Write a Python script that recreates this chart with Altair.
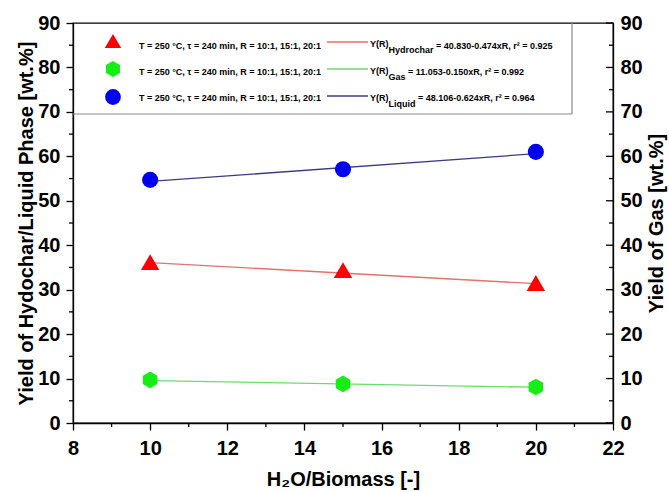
import altair as alt
import pandas as pd

# ---------------- data ----------------
R = [10, 15, 20]
hydrochar = [36.2, 34.4, 31.5]
gas = [9.7, 8.8, 8.1]
liquid = [54.7, 57.1, 61.0]

fit_R = [10, 20]
hydrochar_fit = [36.09, 31.35]
gas_fit = [9.55, 8.05]
liquid_fit = [54.35, 60.59]

series = ["Hydrochar", "Gas", "Liquid"]
conditions = ["T = 250 °C, τ = 240 min, R = 10:1, 15:1, 20:1"] * 3
equations = ["= 40.830-0.474xR, r² = 0.925",
             "= 11.053-0.150xR, r² = 0.992",
             "= 48.106-0.624xR, r² = 0.964"]

x_ticks = [8, 10, 12, 14, 16, 18, 20, 22]
x_minor = [9, 11, 13, 15, 17, 19, 21]
y_ticks = [0, 10, 20, 30, 40, 50, 60, 70, 80, 90]
y_minor = [5, 15, 25, 35, 45, 55, 65, 75, 85]

# ---------------- styles ----------------
FONT = "Liberation Sans"
W, H = 540, 400
HEX = "M0,-1L0.866,-0.5L0.866,0.5L0,1L-0.866,0.5L-0.866,-0.5Z"
marker_color = {"Hydrochar": "#ff0000", "Gas": "#14ee14", "Liquid": "#0000f0"}
marker_shape = {"Hydrochar": "triangle-up", "Gas": HEX, "Liquid": "circle"}
marker_size = {"Hydrochar": 340, "Gas": 280, "Liquid": 260}
legend_size = {"Hydrochar": 270, "Gas": 260, "Liquid": 250}
fit_color = {"Hydrochar": "#e47070", "Gas": "#6cdc6c", "Liquid": "#3a3a7e"}

# text widths (Liberation Sans Bold, per 1000 em) for subscript layout
BW = {"Y": 667, "(": 333, "R": 722, ")": 333, "H": 722, "y": 556, "d": 611,
      "r": 389, "o": 611, "c": 556, "h": 611, "a": 556, "G": 778, "s": 556,
      "L": 611, "i": 278, "q": 611, "u": 611, " ": 278}


def tw(s, size=9):
    return sum(BW.get(ch, 556) for ch in s) * size / 1000.0


values = {"Hydrochar": hydrochar, "Gas": gas, "Liquid": liquid}
fits = {"Hydrochar": hydrochar_fit, "Gas": gas_fit, "Liquid": liquid_fit}

xscale = alt.Scale(domain=[8, 22], nice=False, zero=False)
yscale = alt.Scale(domain=[0, 90], nice=False, zero=False)

xaxis = alt.Axis(values=x_ticks, tickSize=7, labelPadding=8, title="H₂O/Biomass [-]",
                 titlePadding=11, labelFlush=False)
left_axis = alt.Axis(values=y_ticks, tickSize=7, labelPadding=6,
                     title="Yield of Hydochar/Liquid Phase [wt.%]", titlePadding=1)
right_axis = alt.Axis(orient="right", values=y_ticks, ticks=False, tickSize=0,
                      labelPadding=7, title="Yield of Gas [wt.%]", titleAngle=270,
                      titleBaseline="top", titlePadding=4)

X = alt.X("R:Q", scale=xscale, axis=xaxis)
layers = []

# fitted lines
for s in series:
    df = pd.DataFrame({"R": fit_R, "v": fits[s]})
    layers.append(alt.Chart(df).mark_line(color=fit_color[s], strokeWidth=1.3).encode(
        x=X, y=alt.Y("v:Q", scale=yscale, axis=None)))

# data markers
for s in series:
    df = pd.DataFrame({"R": R, "v": values[s]})
    if s == "Hydrochar":
        ax = left_axis
    elif s == "Gas":
        ax = right_axis
    else:
        ax = None
    layers.append(alt.Chart(df).mark_point(
        shape=marker_shape[s], size=marker_size[s], filled=True, opacity=1,
        color=marker_color[s], strokeWidth=0).encode(
        x=X, y=alt.Y("v:Q", scale=yscale, axis=ax)))

# minor ticks on left and bottom, inward ticks on right
layers.append(alt.Chart(pd.DataFrame({"v": y_minor})).mark_rule(color="black", strokeWidth=1.3).encode(
    y=alt.Y("v:Q", scale=yscale, axis=None), x=alt.value(-4), x2=alt.value(0)))
layers.append(alt.Chart(pd.DataFrame({"R": x_minor})).mark_rule(color="black", strokeWidth=1.3).encode(
    x=X, y=alt.value(H), y2=alt.value(H + 4)))
layers.append(alt.Chart(pd.DataFrame({"v": y_ticks})).mark_rule(color="black", strokeWidth=1.3).encode(
    y=alt.Y("v:Q", scale=yscale, axis=None), x=alt.value(W - 7), x2=alt.value(W)))
layers.append(alt.Chart(pd.DataFrame({"v": y_minor})).mark_rule(color="black", strokeWidth=1.3).encode(
    y=alt.Y("v:Q", scale=yscale, axis=None), x=alt.value(W - 4), x2=alt.value(W)))

# legend box edges
one = pd.DataFrame({"a": [0]})
BOX_W, BOX_H = 499, 91
layers.append(alt.Chart(one).mark_rule(color="#8a8a8a", strokeWidth=1.2).encode(
    x=alt.value(0), x2=alt.value(BOX_W), y=alt.value(BOX_H)))
layers.append(alt.Chart(one).mark_rule(color="#8a8a8a", strokeWidth=1.2).encode(
    x=alt.value(BOX_W), y=alt.value(0), y2=alt.value(BOX_H)))

# legend contents
leg = pd.DataFrame({"series": series, "cond": conditions, "eq": equations,
                    "i": [0, 1, 2], "subw": [tw(s + " ") for s in series]})
yr_w = tw("Y(R)")
TXT = dict(font=FONT, fontSize=9, fontWeight="bold", align="left", baseline="middle", color="black")

for s in series:
    layers.append(alt.Chart(leg).transform_filter(alt.datum.series == s).transform_calculate(
        py="18 + 28*datum.i").mark_point(
        shape=marker_shape[s], size=legend_size[s], filled=True, opacity=1,
        color=marker_color[s], strokeWidth=0).encode(
        x=alt.value(40), y=alt.Y("py:Q", scale=None, axis=None)))

layers.append(alt.Chart(leg).transform_calculate(py="23 + 26*datum.i").mark_text(**TXT).encode(
    x=alt.value(66), y=alt.Y("py:Q", scale=None, axis=None), text="cond:N"))

layers.append(alt.Chart(leg).transform_calculate(py="19 + 27*datum.i").mark_rule(strokeWidth=1.3).encode(
    x=alt.value(254), x2=alt.value(295), y=alt.Y("py:Q", scale=None, axis=None),
    color=alt.Color("series:N", scale=alt.Scale(domain=series, range=[fit_color[s] for s in series]),
                    legend=None)))

layers.append(alt.Chart(leg).transform_calculate(py="21 + 27*datum.i").mark_text(**TXT).encode(
    x=alt.value(297), y=alt.Y("py:Q", scale=None, axis=None), text=alt.value("Y(R)")))

layers.append(alt.Chart(leg).transform_calculate(
    py="27 + 27*datum.i", px=f"{297 + yr_w}").mark_text(**TXT).encode(
    x=alt.X("px:Q", scale=None, axis=None), y=alt.Y("py:Q", scale=None, axis=None), text="series:N"))

layers.append(alt.Chart(leg).transform_calculate(
    py="23 + 26*datum.i", px=f"{297 + yr_w} + datum.subw").mark_text(**TXT).encode(
    x=alt.X("px:Q", scale=None, axis=None), y=alt.Y("py:Q", scale=None, axis=None), text="eq:N"))

chart = alt.layer(*layers).resolve_scale(y="independent").properties(
    width=W, height=H,
    autosize=alt.AutoSizeParams(type="none"),
    padding={"left": 73, "top": 23, "right": 56, "bottom": 69},
).configure_view(stroke="black", strokeWidth=1.3).configure_axis(
    labelFont=FONT, labelFontSize=20, labelFontWeight="bold", labelColor="black",
    titleFont=FONT, titleFontSize=20, titleFontWeight="bold", titleColor="black",
    domainColor="black", tickColor="black", domainWidth=1.3, tickWidth=1.3, grid=False)

chart.save("out.html", embed_options={"renderer": "svg", "actions": False})
